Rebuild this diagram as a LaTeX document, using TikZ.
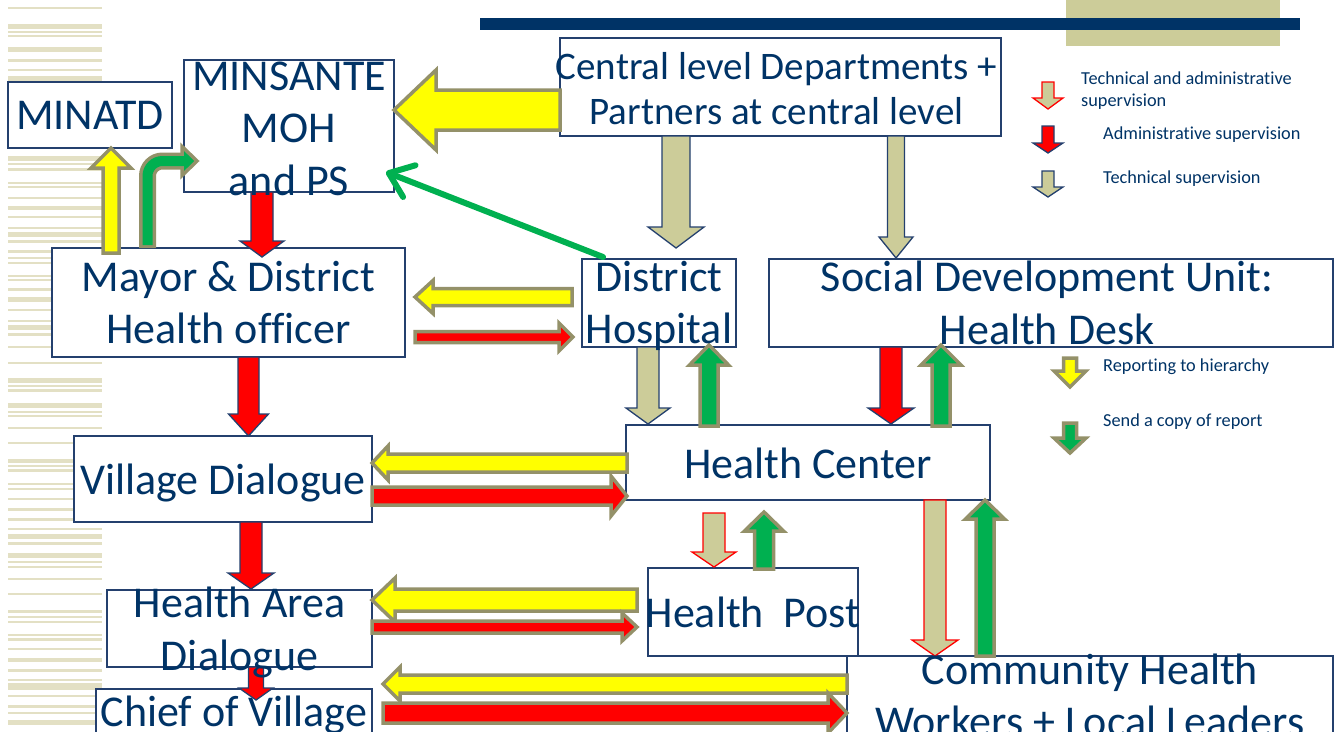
\documentclass[tikz,border=0pt]{standalone}
\usepackage{fontspec}
\setmainfont{Carlito}[Ligatures=NoCommon]
\usetikzlibrary{arrows.meta}
\definecolor{txt}{RGB}{0,51,102}
\definecolor{boxline}{RGB}{36,64,110}
\definecolor{navybar}{RGB}{0,51,102}
\definecolor{tanc}{RGB}{204,204,153}
\definecolor{stripe}{RGB}{227,224,196}
\definecolor{olive}{RGB}{148,145,105}
\definecolor{grn}{RGB}{0,176,80}
\definecolor{yel}{RGB}{255,255,0}
\definecolor{redc}{RGB}{255,0,0}
\tikzset{
 boxn/.style={draw=boxline, line width=1.5pt, fill=white, inner sep=0pt},
 txtn/.style={text=txt, align=center, inner sep=0pt, font=\fontsize{44}{52.5}\selectfont},
 legn/.style={text=txt, align=left, inner sep=0pt, anchor=west, font=\fontsize{18.3}{22}\selectfont},
 yelA/.style={fill=yel, draw=olive, line width=3.5pt},
 grnA/.style={fill=grn, draw=olive, line width=3.5pt},
 redOl/.style={fill=redc, draw=olive, line width=3.5pt},
 redNv/.style={fill=redc, draw=boxline, line width=1.3pt},
 tanNv/.style={fill=tanc, draw=boxline, line width=1.3pt},
 tanRd/.style={fill=tanc, draw=redc, line width=1.3pt},
}
% block arrows: style, centre, start, tip, half shaft, half head, head length
\newcommand\darrow[7]{\draw[#1] ({#2-#5},#3) -- ({#2+#5},#3) -- ({#2+#5},{#4-#7}) -- ({#2+#6},{#4-#7}) -- (#2,#4) -- ({#2-#6},{#4-#7}) -- ({#2-#5},{#4-#7}) -- cycle;}
\newcommand\uarrow[7]{\draw[#1] ({#2-#5},#3) -- ({#2+#5},#3) -- ({#2+#5},{#4+#7}) -- ({#2+#6},{#4+#7}) -- (#2,#4) -- ({#2-#6},{#4+#7}) -- ({#2-#5},{#4+#7}) -- cycle;}
\newcommand\larrow[7]{\draw[#1] (#3,{#2-#5}) -- (#3,{#2+#5}) -- ({#4+#7},{#2+#5}) -- ({#4+#7},{#2+#6}) -- (#4,#2) -- ({#4+#7},{#2-#6}) -- ({#4+#7},{#2-#5}) -- cycle;}
\newcommand\rarrow[7]{\draw[#1] (#3,{#2-#5}) -- (#3,{#2+#5}) -- ({#4-#7},{#2+#5}) -- ({#4-#7},{#2+#6}) -- (#4,#2) -- ({#4-#7},{#2-#6}) -- ({#4-#7},{#2-#5}) -- cycle;}
\begin{document}
\begin{tikzpicture}[x=1pt,y=-1pt]
\useasboundingbox (0,0) rectangle (1335,731);
\fill[white] (0,0) rectangle (1335,731);
% left stripes
\foreach \a/\b in {7/9,24/29,31/33,35/37,47/52,59/62,69/71,76/81,156/161,163/165,168/171,182/184,186/188,197/199,206/210,216/218,227/228.5,232/237,240/243,250/253,257/259,262/263.5,275/277,278.5/281,288/291,297/302,309/311,320/322,325/330,333/336,346/348,362/364,378/383,385/387,388.5/392,403/408,411/412.5,415/417,427/428.5,442/444,459/463,465/467,469/472,483/485,488/490,498/500,508/511,518/521,528/530,534/539,542/545,553/558,561/563,566/568,578/580,593/595,610/613,616/618,621/623,634/636,638/641,648/650,658/662,669/672,679/681,683/690,695/697,705/708,712/714,720/725}
  \fill[stripe] (8,\a) rectangle (102,\b);
% top bars
\fill[tanc] (1066,0) rectangle (1280,46);
\fill[navybar] (480,18) rectangle (1300,30);
% boxes
\node[boxn, minimum width=164pt, minimum height=66pt] (minatd) at (90,115) {};
\node[boxn, minimum width=210pt, minimum height=132pt] (minsante) at (289,126) {};
\node[boxn, minimum width=441pt, minimum height=98pt] (central) at (780.5,87) {};
\node[boxn, minimum width=353pt, minimum height=109pt] (mayor) at (228.5,302.5) {};
\node[boxn, minimum width=154pt, minimum height=88pt] (dh) at (659,303) {};
\node[boxn, minimum width=564pt, minimum height=88pt] (social) at (1051,303) {};
\node[boxn, minimum width=298pt, minimum height=86pt] (village) at (223,479) {};
\node[boxn, minimum width=364pt, minimum height=75pt] (hc) at (808,462.5) {};
\node[boxn, minimum width=265pt, minimum height=77pt] (ha) at (239.5,628.5) {};
\node[boxn, minimum width=210pt, minimum height=88pt] (hp) at (753,612) {};
\node[boxn, minimum width=276pt, minimum height=48pt] (chief) at (234,713) {};
\node[boxn, minimum width=486pt, minimum height=79pt] (chw) at (1090,695.5) {};
% arrows
\larrow{yelA}{110}{560}{394}{20}{40}{42}
\uarrow{yelA}{111}{253}{148}{8}{20}{20}
\draw[olive, line width=17pt, rounded corners=15pt] (147.5,248) |- (185,161);
\draw[grnA] (182,146.5) -- (197,161) -- (182,175.5) -- cycle;
\draw[grn, line width=10pt, rounded corners=15pt] (147.5,245) |- (186,161);
\coordinate (gs) at (603,257);
\coordinate (ge) at (386,172);
\draw[grn, line width=6pt, line cap=round, line join=round, -{Straight Barb[length=22pt,width=34pt,line cap=round,line join=round]}] (gs) -- (ge);
\darrow{redNv}{262}{192}{257}{11}{22}{16}
\darrow{redNv}{248.5}{357}{436}{10.5}{20}{22}
\darrow{redNv}{251}{522}{589}{11}{23}{16}
\darrow{redNv}{256}{667}{700}{7.5}{17}{12}
\darrow{tanNv}{676}{136}{248}{14}{28}{21}
\darrow{tanNv}{896}{136}{258}{8.5}{17}{21}
\larrow{yelA}{297}{572}{415}{8.5}{16.5}{18}
\rarrow{redOl}{337}{415}{573}{5.5}{14}{14}
\darrow{tanNv}{648}{347}{424}{11}{22}{16}
\uarrow{grnA}{709}{426}{345}{9}{19.5}{20}
\darrow{redNv}{891}{347}{424}{11}{23}{16}
\uarrow{grnA}{941}{426}{345}{9}{20}{20}
\larrow{yelA}{463}{627}{372}{9}{17}{16}
\rarrow{redOl}{496}{372}{627}{9}{20}{16}
\darrow{tanRd}{714}{513}{567}{11}{22}{15}
\uarrow{grnA}{764}{569}{512}{9.5}{19.5}{19}
\darrow{tanRd}{935}{500}{656}{11}{23}{16}
\uarrow{grnA}{985}{656}{500}{9}{19.5}{19}
\larrow{yelA}{600}{637}{372}{11}{22}{23}
\rarrow{redOl}{627}{372}{637}{6}{14}{15}
\larrow{yelA}{684}{847}{383}{9}{17}{17}
\rarrow{redOl}{713}{383}{847}{10}{20}{19}
% box texts
\node[txtn] (minatdT) at (minatd.center) {MINATD};
\node[txtn] (minsanteT) at ([yshift=-2.5pt]minsante.center) {MINSANTE\\MOH\\and PS};
\node[txtn, font=\fontsize{39}{45}\selectfont] (centralT) at ([xshift=-4pt,yshift=-2pt]central.center) {Central level Departments +\\Partners at central level};
\node[txtn] (mayorT) at (mayor.center) {Mayor \& District\\Health officer};
\node[txtn] (dhT) at ([yshift=-3pt]dh.center) {District\\Hospital};
\node[txtn] (socialT) at ([xshift=-4pt]social.center) {Social Development Unit:\\Health Desk};
\node[txtn] (villageT) at ([yshift=-4pt]village.center) {Village Dialogue};
\node[txtn] (hcT) at ([yshift=-1pt]hc.center) {Health Center};
\node[txtn] (haT) at ([yshift=-4pt]ha.center) {Health Area\\Dialogue};
\node[txtn] (hpT) at (hp.center) {Health\ \ Post};
\node[txtn] (chiefT) at ([yshift=-2pt]chief.center) {Chief of Village};
\node[txtn] (chwT) at (chw.center) {Community Health\\Workers + Local Leaders};
% legend
\darrow{tanRd}{1048}{82}{109}{6}{15}{11}
\darrow{redNv}{1048}{126}{153}{6}{15}{10}
\darrow{tanNv}{1048}{171}{197}{6}{15}{10}
\darrow{yelA}{1070}{358}{387}{6.5}{16}{16}
\darrow{grnA}{1070}{423}{453}{6.5}{16}{15}
\node[legn] (lg1) at (1081,91) {Technical and administrative\\supervision};
\node[legn] (lg2) at (1103,135) {Administrative supervision};
\node[legn] (lg3) at (1103,179) {Technical supervision};
\node[legn] (lg4) at (1103,367) {Reporting to hierarchy};
\node[legn] (lg5) at (1103,422) {Send a copy of report};
\end{tikzpicture}
\end{document}
